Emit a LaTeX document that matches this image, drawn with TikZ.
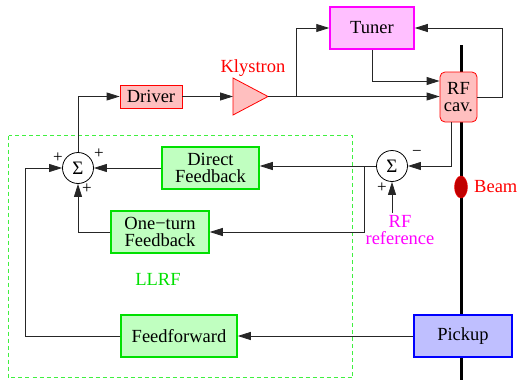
\documentclass[tikz,border=0pt]{standalone}
\usepackage{fontspec}
\setmainfont{Liberation Serif}
\usetikzlibrary{arrows.meta,calc,shapes.geometric}
\definecolor{gfill}{HTML}{C0FFC0}
\definecolor{gline}{HTML}{00E000}
\definecolor{gdash}{HTML}{40F040}
\definecolor{rfill}{HTML}{FFBFBF}
\definecolor{mfill}{HTML}{FFBFFF}
\definecolor{bfill}{HTML}{BFBFFF}
\definecolor{dred}{HTML}{C00000}
\definecolor{mag}{HTML}{FF00FF}
\definecolor{pred}{HTML}{FF0000}
\definecolor{pblue}{HTML}{0000FF}
\definecolor{pgreen}{HTML}{00E000}
\begin{document}
\begin{tikzpicture}[x=1pt,y=-1pt,
  box/.style={draw, line width=1.5pt, inner sep=0pt, align=center,
    font=\fontsize{18.5pt}{17pt}\selectfont},
  gbox/.style={box, draw=gline, fill=gfill, minimum height=42pt},
  sumnode/.style={circle, draw, line width=0.8pt, minimum size=31pt, inner sep=0pt,
    font=\fontsize{19pt}{19pt}\selectfont},
  arr/.style={draw=black!85, line width=0.8pt, -{Triangle[length=13pt,width=8pt]}},
  sgn/.style={font=\fontsize{17pt}{17pt}\selectfont, inner sep=0pt},
  lbl/.style={font=\fontsize{18.5pt}{16pt}\selectfont, inner sep=0pt, align=center}
]
\useasboundingbox (0,0) rectangle (517,380);
% LLRF dashed region
\draw[draw=gdash, dash pattern=on 4pt off 3pt, line width=1.1pt] (8.5,135.5) rectangle (352.5,377.5);
% beam line
\draw[line width=3pt] (461,45) -- (461,380);
\node[draw=pred, fill=dred, ellipse, minimum width=13pt, minimum height=22pt, inner sep=0pt] (beam) at (461,187) {};
\node[lbl, text=pred, anchor=west] (beamlbl) at (474,187) {Beam};
% blocks
\node[box, draw=pred, line width=0.8pt, fill=rfill, minimum width=62pt, minimum height=23pt] (driver) at (151,96.5) {Driver};
\node[box, draw=mag, fill=mfill, minimum width=84pt, minimum height=42pt] (tuner) at (372,28) {Tuner};
\node[box, draw=pred, line width=0.8pt, fill=rfill, rounded corners=5pt, minimum width=37pt, minimum height=50pt] (rf) at (458.5,97) {RF\\cav.};
\node[gbox, minimum width=97pt] (direct) at (210.5,168) {Direct\\Feedback};
\node[gbox, minimum width=98pt] (onet) at (160,232) {One−turn\\Feedback};
\node[gbox, minimum width=116pt] (ff) at (179,336) {Feedforward};
\node[box, draw=pblue, fill=bfill, minimum width=98pt, minimum height=42pt] (pickup) at (463,336) {Pickup};
\node[sumnode] (s1) at (78,168) {Σ};
\node[sumnode] (s2) at (392,166) {Σ};
% klystron
\coordinate (kl) at (233,96.5);
\coordinate (kr) at (268,96.5);
\draw[pred, fill=rfill, line width=0.8pt] (233,78) -- (kr) -- (233,115) -- cycle;
\node[lbl, text=pred] (klylbl) at (253,68) {Klystron};
% labels
\node[lbl, text=pgreen] (llrf) at (158,279) {LLRF};
\node[lbl, text=mag, font=\fontsize{18.5pt}{17.5pt}\selectfont] (rfreflbl) at (400,230) {RF\\reference};
\coordinate (rfref) at (392,213);
\node[sgn] (p1) at (58,158) {+};
\node[sgn] (p2) at (99,154) {+};
\node[sgn] (p3) at (87,189) {+};
\node[sgn] (p4) at (382,188) {+};
\node[sgn] (m1) at (417,153) {−};
% connectors
\draw[arr] (s1.north) |- (driver.west);
\draw[arr] (driver.east) -- (kl);
\draw[arr] (kr) -- (kr -| rf.west);
\coordinate (br) at (296,96.5);
\draw[arr] (br) |- (tuner.west);
\draw[arr] (tuner.south) |- ([yshift=16pt]rf.west);
\draw[arr] (rf.east) -- ++(25,0) |- (tuner.east);
\draw[arr] ([xshift=-7.5pt]rf.south) |- (s2.east);
\draw[arr] (rfref) -- (s2.south);
\draw[arr] (s2.west) -- (s2.west -| direct.east);
\coordinate (br2) at ([xshift=-12pt]s2.west);
\draw[arr] (br2) |- (onet.east);
\draw[arr] (direct.west) -- (s1.east);
\draw[arr] (onet.west) -| (s1.south);
\draw[arr] (pickup.west) -- (ff.east);
\draw[arr] (ff.west) -- ++(-95,0) |- (s1.west);
\end{tikzpicture}
\end{document}
